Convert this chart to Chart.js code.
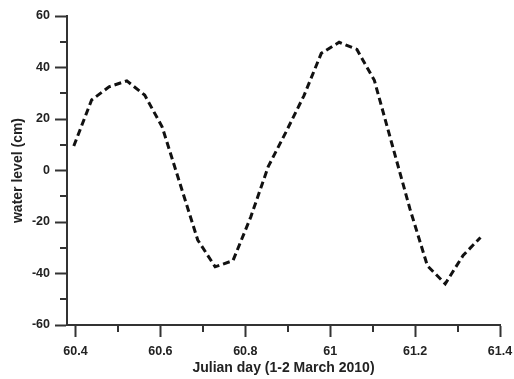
<!DOCTYPE html>
<html>
<head>
<meta charset="utf-8">
<script src="https://cdn.jsdelivr.net/npm/chart.js@4"></script>
<style>
  html, body { margin: 0; padding: 0; background: #fff; }
</style>
</head>
<body>
<canvas id="levelChart" width="514" height="379"></canvas>
<script>
// hourly water level, 1-2 March 2010
const julianDay = [60.396, 60.438, 60.479, 60.521, 60.563, 60.604, 60.646, 60.688,
  60.729, 60.771, 60.813, 60.854, 60.896, 60.938, 60.979, 61.021,
  61.063, 61.104, 61.146, 61.188, 61.229, 61.271, 61.313, 61.354];
const waterLevel = [9.5, 27.4, 32.5, 34.8, 29.3, 17, -5, -27,
  -37.4, -35, -18, 1.5, 15, 29, 45.5, 49.8,
  47, 35, 10, -15, -37, -44, -33, -26];

const xTicks = [60.4, 60.6, 60.8, 61, 61.2, 61.4];
const xMinor = [60.5, 60.7, 60.9, 61.1, 61.3];
const yTicks = [-60, -40, -20, 0, 20, 40, 60];
const yMinor = [-50, -30, -10, 10, 30, 50];

const axisColor = '#333';
const family = 'Liberation Sans, Arial, sans-serif';
const tickFont = { family, size: 12.5, weight: 'bold' };
const titleFont = { family, size: 14, weight: 'bold' };

// short ticks in between the labelled ones
const minorTicks = {
  id: 'minorTicks',
  afterDraw(chart) {
    const { ctx, chartArea, scales } = chart;
    ctx.save();
    ctx.strokeStyle = axisColor;
    ctx.lineWidth = 2;
    ctx.beginPath();
    yMinor.forEach(v => {
      const py = Math.round(scales.y.getPixelForValue(v));
      ctx.moveTo(chartArea.left - 7, py);
      ctx.lineTo(chartArea.left, py);
    });
    xMinor.forEach(v => {
      const px = Math.round(scales.x.getPixelForValue(v));
      ctx.moveTo(px, chartArea.bottom);
      ctx.lineTo(px, chartArea.bottom + 7);
    });
    ctx.stroke();
    ctx.restore();
  }
};

const ctx = document.getElementById('levelChart').getContext('2d');

new Chart(ctx, {
  type: 'scatter',
  data: {
    datasets: [{
      data: julianDay.map((d, i) => ({ x: d, y: waterLevel[i] })),
      showLine: true,
      borderColor: '#111',
      borderWidth: 3,
      borderDash: [7, 4],
      pointRadius: 0,
      tension: 0,
      fill: false,
    }],
  },
  options: {
    responsive: false,
    animation: false,
    devicePixelRatio: 1,
    layout: { padding: { top: 16, right: 14, left: 0, bottom: 0 } },
    plugins: {
      legend: { display: false },
      tooltip: { enabled: false },
    },
    scales: {
      x: {
        type: 'linear',
        min: 60.38,
        max: 61.4,
        afterBuildTicks: s => { s.ticks = xTicks.map(v => ({ value: v })); },
        afterFit: s => { s.height = 54; s.paddingLeft = 0; s.paddingRight = 0; },
        border: { display: true, color: axisColor, width: 2 },
        grid: { drawOnChartArea: false, tickLength: 12, tickColor: axisColor, tickWidth: 2 },
        ticks: { color: '#222', font: tickFont, padding: 7, maxRotation: 0, autoSkip: false, callback: v => String(v) },
        title: {
          display: true,
          text: 'Julian day (1-2 March 2010)',
          color: '#222',
          font: titleFont,
          padding: { top: 0, bottom: 2 },
        },
      },
      y: {
        min: -60,
        max: 60,
        afterBuildTicks: s => { s.ticks = yTicks.map(v => ({ value: v })); },
        afterFit: s => { s.width = 67; s.paddingTop = 0; s.paddingBottom = 0; },
        border: { display: true, color: axisColor, width: 2 },
        grid: { drawOnChartArea: false, tickLength: 12, tickColor: axisColor, tickWidth: 2 },
        ticks: { color: '#222', font: tickFont, padding: 5, autoSkip: false, callback: v => String(v) },
        title: {
          display: true,
          text: 'water level (cm)',
          color: '#222',
          font: titleFont,
          padding: { top: 10, bottom: 0 },
        },
      },
    },
  },
  plugins: [minorTicks],
});
</script>
</body>
</html>
